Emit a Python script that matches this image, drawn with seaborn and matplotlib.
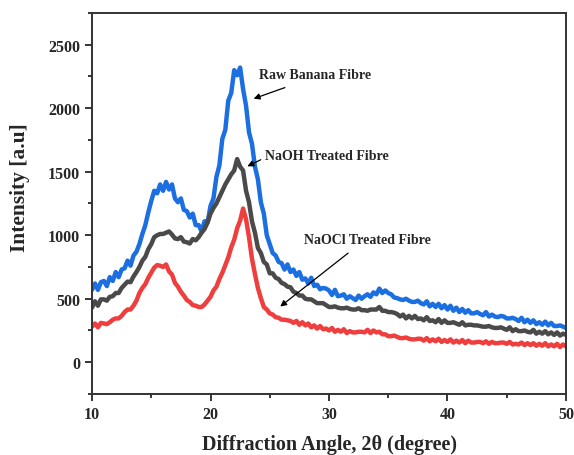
import numpy as np
import pandas as pd
import matplotlib
matplotlib.use("Agg")
import matplotlib.pyplot as plt
import seaborn as sns

# 2-theta grid, 0.25 degree steps from 10 to 50
two_theta = np.arange(10, 50.001, 0.25)

# intensities (a.u.)
raw_banana = [
    570, 620, 570, 630, 640, 600, 670, 640,
    710, 670, 730, 740, 800, 760, 840, 870,
    930, 1010, 1080, 1180, 1270, 1350, 1330, 1400,
    1350, 1420, 1360, 1400, 1290, 1260, 1290, 1200,
    1190, 1140, 1170, 1080, 1080, 1030, 1110, 1100,
    1230, 1290, 1460, 1550, 1760, 1830, 2060, 2120,
    2300, 2260, 2320, 2150, 2020, 1810, 1720, 1540,
    1440, 1260, 1170, 1000, 930, 860, 840, 790,
    780, 730, 770, 710, 730, 680, 710, 650,
    660, 620, 665, 600, 610, 575, 585, 580,
    565, 530, 570, 520, 525, 535, 500, 520,
    505, 490, 525, 500, 520, 535, 515, 550,
    535, 580, 545, 565, 545, 535, 510, 505,
    495, 490, 500, 485, 475, 475, 485, 465,
    455, 480, 440, 460, 435, 460, 425, 450,
    415, 445, 405, 430, 395, 420, 390, 410,
    385, 385, 395, 380, 370, 395, 360, 375,
    360, 355, 365, 360, 345, 345, 350, 340,
    325, 350, 315, 335, 310, 330, 300, 315,
    295, 320, 290, 310, 285, 285, 290, 280,
    270,
]
naoh_treated = [
    430, 480, 445, 495, 495, 485, 515, 520,
    545, 545, 585, 610, 635, 630, 675, 710,
    750, 800, 830, 890, 930, 985, 1000, 1010,
    1010, 1020, 1030, 1005, 975, 970, 985, 950,
    945, 935, 970, 960, 985, 1020, 1050, 1100,
    1170, 1215, 1250, 1300, 1350, 1400, 1440, 1480,
    1510, 1600, 1540, 1510, 1350, 1260, 1110, 1020,
    900, 860, 790, 770, 700, 700, 665, 655,
    625, 615, 595, 590, 555, 545, 525, 525,
    500, 495, 495, 480, 465, 465, 465, 450,
    435, 435, 440, 430, 425, 425, 430, 420,
    415, 415, 425, 410, 410, 405, 415, 415,
    415, 435, 405, 405, 395, 395, 390, 380,
    360, 375, 345, 365, 345, 365, 340, 345,
    330, 355, 325, 330, 315, 340, 310, 330,
    310, 310, 315, 305, 295, 315, 290, 295,
    295, 290, 290, 285, 280, 280, 285, 275,
    270, 270, 275, 265, 255, 275, 245, 260,
    245, 245, 250, 240, 235, 255, 225, 240,
    225, 245, 220, 235, 215, 235, 210, 225,
    215,
]
naocl_treated = [
    280, 305, 275, 310, 305, 300, 315, 335,
    345, 345, 365, 395, 415, 415, 445, 485,
    545, 585, 615, 665, 705, 745, 765, 760,
    750, 770, 715, 690, 625, 595, 555, 525,
    490, 475, 450, 445, 435, 435, 455, 485,
    515, 565, 595, 655, 705, 765, 825, 905,
    965, 1055, 1115, 1210, 1125, 985, 815, 695,
    585, 505, 435, 415, 385, 375, 355, 350,
    335, 335, 330, 325, 310, 325, 295, 315,
    290, 305, 275, 290, 265, 285, 260, 265,
    250, 270, 240, 255, 240, 260, 230, 245,
    235, 235, 240, 240, 235, 255, 230, 250,
    235, 240, 220, 220, 205, 205, 210, 200,
    190, 190, 195, 185, 180, 180, 185, 185,
    170, 190, 165, 180, 165, 185, 160, 175,
    160, 180, 155, 170, 155, 175, 150, 170,
    155, 155, 160, 160, 150, 165, 145, 160,
    150, 150, 155, 155, 145, 160, 140, 145,
    140, 155, 135, 150, 135, 150, 130, 145,
    130, 150, 125, 140, 125, 145, 120, 140,
    125,
]

series = {
    "Raw Banana Fibre": (raw_banana, "#1c6fe0"),
    "NaOH Treated Fibre": (naoh_treated, "#4a4a4a"),
    "NaOCl Treated Fibre": (naocl_treated, "#ef3e3e"),
}

sns.set_style("ticks")
plt.rcParams["font.family"] = ["Liberation Serif", "DejaVu Serif"]
plt.rcParams["font.weight"] = "bold"

fig = plt.figure(figsize=(5.74, 4.56), dpi=100)
ax = fig.add_axes([0.1603, 0.1338, 0.8257, 0.8355])

for name, (vals, col) in series.items():
    df = pd.DataFrame({"x": two_theta, "y": vals})
    sns.lineplot(data=df, x="x", y="y", color=col, lw=3.2, ax=ax)

ax.set_xlim(10, 50)
ax.set_ylim(-250, 2750)
ax.set_xticks([10, 20, 30, 40, 50])
ax.set_xticks([15, 25, 35, 45], minor=True)
ax.set_yticks([0, 500, 1000, 1500, 2000, 2500])
ax.set_yticks(np.arange(-250, 2751, 500), minor=True)
ax.tick_params(axis="both", which="major", direction="out", length=5, width=1.3,
               labelsize=11.5, top=False, right=False)
ax.tick_params(axis="both", which="minor", direction="out", length=3, width=1.3,
               top=False, right=False)
for lab in ax.get_xticklabels() + ax.get_yticklabels():
    lab.set_fontweight("bold")
for sp in ax.spines.values():
    sp.set_linewidth(1.4)
    sp.set_color("#333333")

ax.set_xlabel("Diffraction Angle, 2θ (degree)", fontsize=14.5, fontweight="bold")
ax.xaxis.set_label_coords(0.502, -0.106)
ax.set_ylabel("Intensity [a.u]", fontsize=15.5, fontweight="bold")
ax.yaxis.set_label_coords(-0.13, 0.543)

arrow = dict(arrowstyle="-|>", color="black", lw=0.9, mutation_scale=9)
ax.annotate("", xy=(23.42, 2068), xytext=(26.5, 2170), arrowprops=arrow)
ax.text(24.1, 2264, "Raw Banana Fibre", fontsize=10, fontweight="bold", va="center")
ax.annotate("", xy=(22.9, 1533), xytext=(24.45, 1604), arrowprops=arrow)
ax.text(24.6, 1627, "NaOH Treated Fibre", fontsize=10, fontweight="bold", va="center")
ax.annotate("", xy=(25.7, 425), xytext=(31.8, 873), arrowprops=arrow)
ax.text(27.9, 967, "NaOCl Treated Fibre", fontsize=10, fontweight="bold", va="center")

fig.savefig("out.png", dpi=100)
